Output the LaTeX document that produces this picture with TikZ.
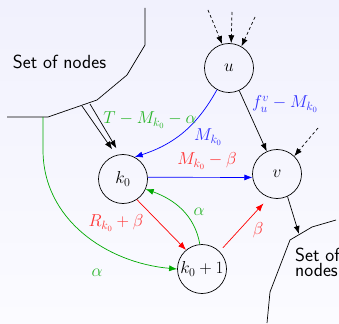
\documentclass[tikz,border=0pt]{standalone}
\usetikzlibrary{arrows.meta,calc}
\definecolor{bgtop}{RGB}{241,241,253}
\definecolor{bgbot}{RGB}{251,251,255}
\definecolor{lgreen}{RGB}{0,170,0}
\definecolor{tgreen}{RGB}{40,180,40}
\definecolor{tred}{RGB}{255,50,50}
\definecolor{tblue}{RGB}{50,50,255}
\begin{document}
\begin{tikzpicture}[x=1pt,y=-1pt,
  every node/.style={font=\fontsize{17}{14}\selectfont},
  setlbl/.style={font=\fontsize{19}{14.5}\selectfont\sffamily},
  vert/.style={draw,circle,minimum size=49pt,inner sep=0pt,line width=0.7pt},
  edge/.style={line width=0.7pt,-{Latex[length=8pt,width=6pt]}},
  dashedge/.style={edge,dash pattern=on 3pt off 2.5pt},
  border/.style={line width=0.7pt},
  lbl/.style={inner sep=1pt}]
\shade[top color=bgtop,bottom color=bgbot] (0,0) rectangle (339,323);
\useasboundingbox (0,0) rectangle (339,323);
% sets of nodes
\draw[border] (7,117) -- (48,117) -- (97,100) -- (127,75) -- (145,45) -- (145,8);
\draw[border] (336,220) -- (312,227) -- (290,240) -- (270,292) -- (267,323);
\node[setlbl] (set1) at (59.5,61.5) {Set of nodes};
\node[setlbl,align=left,anchor=base west,inner sep=0pt] (set2) at (295,276) {Set of\\nodes};
% vertices
\node[vert] (u) at (229,68) {$u$};
\node[vert] (k0) at (123,179) {$k_0$};
\node[vert] (v) at (277,174) {$v$};
\node[vert] (k1) at (202,269) {$k_0+1$};
% free ends
\coordinate (d1) at (82,106);
\coordinate (d2) at (90,104);
\coordinate (g0) at (43,117);
\coordinate (g1) at (43,150);
\coordinate (a1) at (208,10);
\coordinate (a2) at (232,12);
\coordinate (a3) at (255,17);
\coordinate (a4) at (318,128);
\coordinate (s2) at (299,234);
% connectors
\draw[edge,shorten >=7pt] (d1) -- (k0.106);
\draw[edge,shorten >=7pt] (d2) -- (k0.97);
\draw[dashedge] (a1) -- (u.106);
\draw[dashedge] (a2) -- (u.85);
\draw[dashedge] (a3) -- (u.60);
\draw[dashedge] (a4) -- (v.46);
\draw[edge] (u) -- (v);
\draw[edge] (v.-65) -- (s2);
\draw[edge,blue] (u.241) to[out=-119,in=18] (k0.62);
\draw[edge,blue] (k0.4) -- (v.188);
\draw[edge,red] (k0.-56) -- (k1.130);
\draw[edge,red,shorten <=5pt,shorten >=8pt] (k1.45) -- (v.251);
\draw[edge,lgreen] (k1.95) to[out=100,in=-20] (k0.-24);
\draw[edge,lgreen] (g0) -- (g1) to[out=-90,in=175] (k1.west);
% labels
\node[lbl,text=tgreen] (l1) at (150,120) {$T-M_{k_0}-\alpha$};
\node[lbl,text=tblue] (l2) at (208,137) {$M_{k_0}$};
\node[lbl,text=tblue] (l3) at (285,104) {$f_u^v-M_{k_0}$};
\node[lbl,text=tred] (l4) at (207,161) {$M_{k_0}-\beta$};
\node[lbl,text=tred] (l5) at (116,223) {$R_{k_0}+\beta$};
\node[lbl,text=tgreen] (l6) at (97,273) {$\alpha$};
\node[lbl,text=tgreen] (l7) at (199,212) {$\alpha$};
\node[lbl,text=tred] (l8) at (258,230) {$\beta$};
\end{tikzpicture}
\end{document}
